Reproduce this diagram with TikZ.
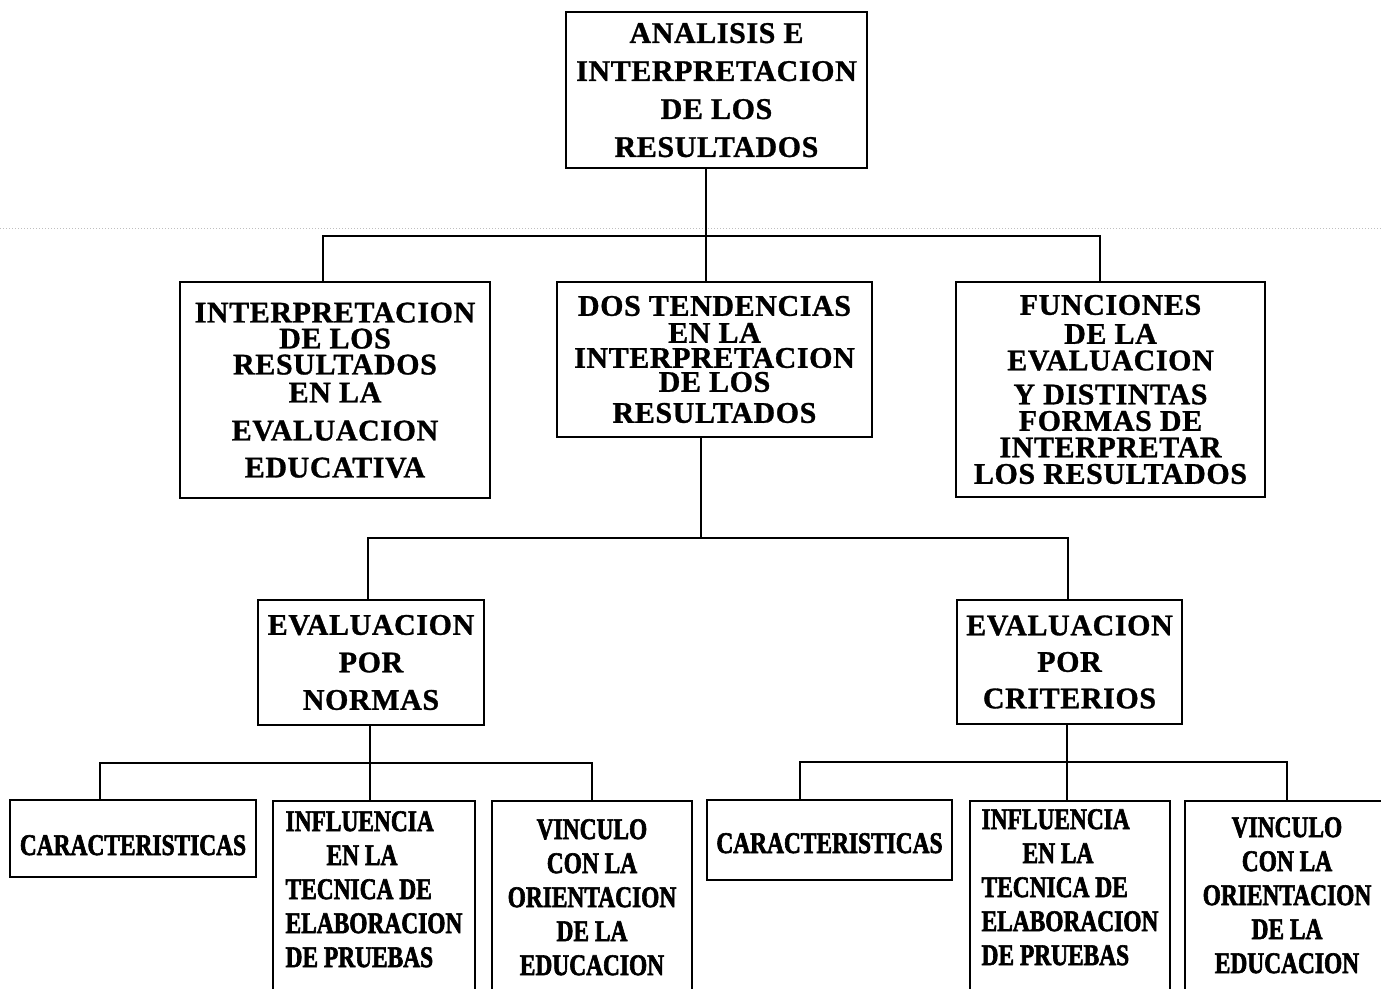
\documentclass[tikz,border=0pt]{standalone}
\usepackage{fontspec}
\setmainfont[LetterSpace=2,FakeBold=1]{Liberation Serif}
\newfontfamily\condfont[FakeStretch=0.78,FakeBold=2]{Liberation Serif}

\begin{document}
\begin{tikzpicture}[x=1pt, y=-1pt,
	caja/.style={draw, line width=2.4pt, align=center, inner sep=0pt},
	cajabaja/.style={caja, anchor=north, text depth=250pt, font={\condfont\bfseries\fontsize{30}{34}\selectfont}},
	linea/.style={line width=2.4pt}]
	\useasboundingbox (0,0) rectangle (1381,988);
	\clip (0,0) rectangle (1381,988);
	\draw[gray!50, dotted, line width=1pt] (0,228) -- (1381,228);

	\node[caja, minimum width=301pt, minimum height=156pt, text depth=-6pt, font={\bfseries\fontsize{30}{38}\selectfont}] (analisis) at (716.5,90) {ANALISIS E\\INTERPRETACION\\DE LOS\\RESULTADOS};

	\node[caja, minimum width=310pt, minimum height=216pt, text depth=-6pt, font={\bfseries\fontsize{30}{26}\selectfont}] (interp) at (335,390) {INTERPRETACION\\DE LOS\\RESULTADOS\\[2pt]EN LA\\[12pt]EVALUACION\\[11pt]EDUCATIVA};
	\node[caja, minimum width=315pt, minimum height=155pt, font={\bfseries\fontsize{30}{25}\selectfont}] (dos) at (714.5,359.5) {DOS TENDENCIAS\\[2pt]EN LA\\INTERPRETACION\\[-1pt]DE LOS\\[6pt]RESULTADOS};
	\node[caja, minimum width=309pt, minimum height=215pt, font={\bfseries\fontsize{30}{26.5}\selectfont}] (funciones) at (1110.5,389.5) {FUNCIONES\\[2.5pt]DE LA\\EVALUACION\\[7.5pt]Y DISTINTAS\\FORMAS DE\\INTERPRETAR\\LOS RESULTADOS};

	\node[caja, minimum width=226pt, minimum height=125pt, font={\bfseries\fontsize{30}{37.5}\selectfont}] (normas) at (371,662.5) {EVALUACION\\POR\\NORMAS};
	\node[caja, minimum width=225pt, minimum height=124pt, font={\bfseries\fontsize{30}{36.5}\selectfont}] (criterios) at (1069.5,662) {EVALUACION\\POR\\CRITERIOS};

	\node[caja, minimum width=246pt, minimum height=77pt, text height=33pt, text depth=0pt, font={\condfont\bfseries\fontsize{30}{34}\selectfont}] (caracN) at (133,838.5) {CARACTERISTICAS};
	\node[cajabaja, minimum width=202pt, inner ysep=10pt, align=left] (influN) at (374,800) {INFLUENCIA\\\hspace*{41pt}EN LA\\TECNICA DE\\ELABORACION\\DE PRUEBAS};
	\node[cajabaja, minimum width=200pt, inner ysep=18pt] (vincN) at (592,800) {VINCULO\\CON LA\\ORIENTACION\\DE LA\\EDUCACION};

	\node[caja, minimum width=245pt, minimum height=80pt, text height=26pt, text depth=0pt, font={\condfont\bfseries\fontsize{30}{34}\selectfont}] (caracC) at (829.5,840) {CARACTERISTICAS};
	\node[cajabaja, minimum width=200pt, inner ysep=8pt, align=left] (influC) at (1070,800) {INFLUENCIA\\\hspace*{41pt}EN LA\\TECNICA DE\\ELABORACION\\DE PRUEBAS};
	\node[cajabaja, minimum width=204pt, inner ysep=16pt] (vincC) at (1287,800) {VINCULO\\CON LA\\ORIENTACION\\DE LA\\EDUCACION};

	% conectores
	\coordinate (b1) at (706,236);
	\coordinate (b1l) at (323,236);
	\coordinate (b1r) at (1100,236);
	\draw[linea] (analisis.south -| b1) -- (b1) -- (dos.north -| b1);
	\draw[linea] (interp.north -| b1l) |- (b1r) -- (funciones.north -| b1r);

	\coordinate (b2) at (701,538);
	\coordinate (b2l) at (368,538);
	\coordinate (b2r) at (1068,538);
	\draw[linea] (dos.south -| b2) -- (b2);
	\draw[linea] (normas.north -| b2l) |- (b2r) -- (criterios.north -| b2r);

	\coordinate (b3) at (370,763);
	\coordinate (b3l) at (100,763);
	\coordinate (b3r) at (592,763);
	\draw[linea] (normas.south -| b3) -- (b3) -- (influN.north -| b3);
	\draw[linea] (caracN.north -| b3l) |- (b3r) -- (vincN.north -| b3r);

	\coordinate (b4) at (1067,762);
	\coordinate (b4l) at (800,762);
	\coordinate (b4r) at (1287,762);
	\draw[linea] (criterios.south -| b4) -- (b4) -- (influC.north -| b4);
	\draw[linea] (caracC.north -| b4l) |- (b4r) -- (vincC.north -| b4r);
\end{tikzpicture}
\end{document}
